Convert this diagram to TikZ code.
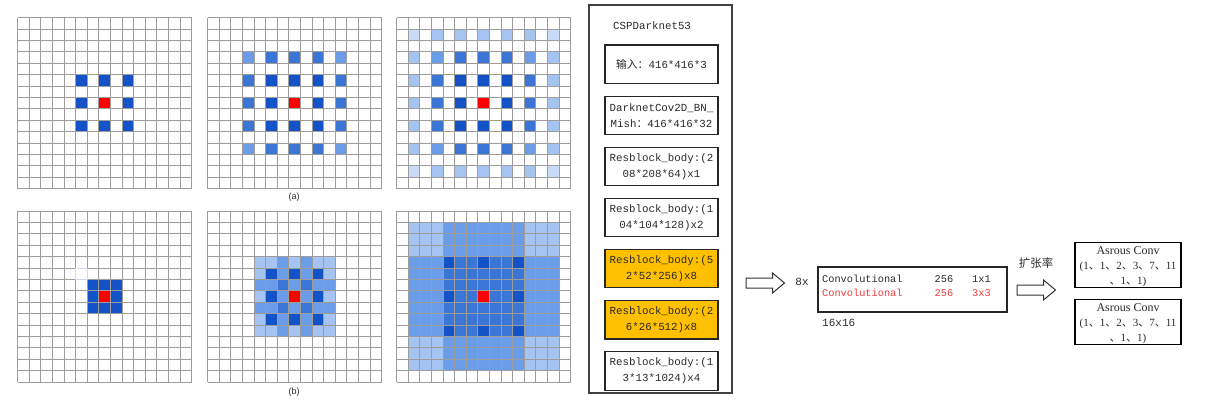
\documentclass[tikz,border=0pt]{standalone}
\usepackage{fontspec}
\setmainfont{Liberation Serif}
\setsansfont{Liberation Sans}
\setmonofont{Liberation Mono}
\newfontfamily\cjk{Noto Sans CJK SC}
\usetikzlibrary{positioning}

\definecolor{gridGray}{HTML}{9C9C9C}
\definecolor{blueDark}{HTML}{1452C8}
\definecolor{blueMid}{HTML}{3B76D6}
\definecolor{blueSoft}{HTML}{6A9CE8}
\definecolor{blueLight}{HTML}{A6C4F2}
\definecolor{blueFaint}{HTML}{C9DBF6}
\definecolor{hotRed}{HTML}{FF0000}
\definecolor{convRed}{HTML}{F23A3A}
\definecolor{stageOrange}{HTML}{FFC000}
\definecolor{textGray}{HTML}{2A2A2A}
\colorlet{lv1}{blueDark}
\colorlet{lv2}{blueMid}
\colorlet{lv3}{blueSoft}
\colorlet{lv4}{blueLight}
\colorlet{lv5}{blueFaint}

\newcommand{\dun}{{\cjk 、}}

\begin{document}
\begin{tikzpicture}[x=1pt,y=-1pt,
    % 统一样式
    grid_style/.style={draw=gridGray, line width=0.9pt},
    stage_box/.style={draw=black!85, line width=1.1pt, fill=white, minimum width=113pt,
        minimum height=38.5pt, inner sep=0pt, align=center, text=textGray,
        font=\ttfamily\fontsize{10.8}{16}\selectfont},
    hot_box/.style={stage_box, fill=stageOrange},
    mono_text/.style={inner sep=0pt, font=\ttfamily\fontsize{10.3}{12}\selectfont, text=textGray},
    atrous_box/.style={draw=black, line width=1.1pt, minimum width=106pt, minimum height=45pt,
        inner sep=0pt, align=center, text=textGray, font=\fontsize{11}{15}\selectfont},
    arrow_style/.style={draw=black!80, line width=1pt, fill=white}
]
    \useasboundingbox (0,0) rectangle (1213,402);

    % --- 绘制宏 ---
    % 15x15 网格线
    \newcommand{\fmap}[1]{
        \begin{scope}[shift={(#1)}]
            \foreach \idx in {0,...,15} {
                \draw[grid_style] ({11.6*\idx},0) -- ({11.6*\idx},171);
                \draw[grid_style] (0,{11.4*\idx}) -- (174,{11.4*\idx});
            }
        \end{scope}
    }
    % 填充单个格子: 网格, 列, 行, 颜色
    \newcommand{\fmcell}[4]{
        \fill[#4, shift={(#1)}] ({11.6*(#2)},{11.4*(#3)}) rectangle ++(11.6,11.4);
    }
    % 空心箭头
    \newcommand{\blockarrow}[2]{
        \coordinate (#1) at (#2);
        \draw[arrow_style, shift={(#1)}] (0,-5) -- (26.5,-5) -- (26.5,-10) -- (38.5,0)
            -- (26.5,10) -- (26.5,5) -- (0,5) -- cycle;
    }

    % --- 网格位置 ---
    \coordinate (a1) at (17.7,17.7);
    \coordinate (a2) at (207.7,17.7);
    \coordinate (a3) at (396.7,17.7);
    \coordinate (b1) at (17.7,211);
    \coordinate (b2) at (207.7,211);
    \coordinate (b3) at (396.7,211);

    % --- (a) 空洞卷积 ---
    \foreach \i in {-1,0,1} {
        \foreach \j in {-1,0,1} {
            \fmcell{a1}{7+2*\i}{7+2*\j}{lv1}
        }
    }
    \fmcell{a1}{7}{7}{hotRed}

    \foreach \gname/\rad in {a2/2,a3/3} {
        \foreach \i in {-\rad,...,\rad} {
            \foreach \j in {-\rad,...,\rad} {
                \pgfmathtruncatemacro{\dst}{max(abs(\i),abs(\j))}
                \pgfmathtruncatemacro{\crn}{abs(\i)==abs(\j)}
                \pgfmathtruncatemacro{\lev}{\dst<2 ? 1 : (\dst==2 ? 2+\crn : 4+\crn)}
                \fmcell{\gname}{7+2*\i}{7+2*\j}{lv\lev}
            }
        }
        \fmcell{\gname}{7}{7}{hotRed}
    }

    % --- (b) 感受野叠加 ---
    \foreach \i in {6,7,8} {
        \foreach \j in {6,7,8} {
            \fmcell{b1}{\i}{\j}{lv1}
        }
    }
    \fmcell{b1}{7}{7}{hotRed}

    \foreach \i in {-3,...,3} {
        \foreach \j in {-3,...,3} {
            \pgfmathtruncatemacro{\cnt}{(1+(abs(\i)==1))*(1+(abs(\j)==1))}
            \pgfmathtruncatemacro{\lev}{\cnt==1 ? 4 : (\cnt<4 ? 3 : 2)}
            \fmcell{b2}{7+\i}{7+\j}{lv\lev}
        }
    }
    \foreach \i in {-2,0,2} {
        \foreach \j in {-2,0,2} {
            \fmcell{b2}{7+\i}{7+\j}{lv1}
        }
    }
    \fmcell{b2}{7}{7}{hotRed}

    \foreach \i in {-6,...,6} {
        \foreach \j in {-6,...,6} {
            \pgfmathtruncatemacro{\cnt}{(1+(abs(\i)<4)+(\i==0))*(1+(abs(\j)<4)+(\j==0))}
            \pgfmathtruncatemacro{\lev}{\cnt==1 ? 4 : (\cnt<4 ? 3 : 2)}
            \fmcell{b3}{7+\i}{7+\j}{lv\lev}
        }
    }
    \foreach \i in {-3,0,3} {
        \foreach \j in {-3,0,3} {
            \fmcell{b3}{7+\i}{7+\j}{lv1}
        }
    }
    \fmcell{b3}{7}{7}{hotRed}

    % 网格线画在填充之上
    \foreach \gname in {a1,a2,a3,b1,b2,b3} {
        \fmap{\gname}
    }
    \draw[blueFaint, line width=1pt, shift={(b1)}] (58,57) rectangle ++(11.6,11.4);

    \node[font=\sffamily\fontsize{9}{10}\selectfont, text=textGray] (lbla) at (294,197) {(a)};
    \node[font=\sffamily\fontsize{9}{10}\selectfont, text=textGray] (lblb) at (294,392) {(b)};

    % --- CSPDarknet53 ---
    \node[draw=black!75, line width=1.2pt, minimum width=143pt, minimum height=388pt] (csp) at (660.5,199) {};
    \node[mono_text, font=\ttfamily\fontsize{10.8}{12}\selectfont, anchor=west] (csptitle) at (613,26) {CSPDarknet53};
    \node[stage_box] (s1) at (661.5,64.25) {{\cjk 输入：}416*416*3};
    \node[stage_box, below=11.5pt of s1] (s2) {DarknetCov2D\_BN\_\\Mish{\cjk ：}416*416*32};
    \node[stage_box, below=11.5pt of s2] (s3) {Resblock\_body:(2\\08*208*64)x1};
    \node[stage_box, below=11.5pt of s3] (s4) {Resblock\_body:(1\\04*104*128)x2};
    \node[hot_box, below=11.5pt of s4] (s5) {Resblock\_body:(5\\2*52*256)x8};
    \node[hot_box, below=11.5pt of s5] (s6) {Resblock\_body:(2\\6*26*512)x8};
    \node[stage_box, below=11.5pt of s6] (s7) {Resblock\_body:(1\\3*13*1024)x4};

    % --- 卷积块 ---
    \blockarrow{arr1}{746,283}
    \node[mono_text, font=\ttfamily\fontsize{11}{12}\selectfont] (rep) at (802,282) {8x};
    \node[draw=black!85, line width=1.1pt, minimum width=189pt, minimum height=45pt] (conv) at (912.5,289.5) {};
    \node[mono_text, anchor=west] (c1n) at (822,279) {Convolutional};
    \node[mono_text] (c1f) at (944,279) {256};
    \node[mono_text] (c1k) at (981.5,279) {1x1};
    \node[mono_text, text=convRed, anchor=west] (c2n) at (822,293) {Convolutional};
    \node[mono_text, text=convRed] (c2f) at (944,293) {256};
    \node[mono_text, text=convRed] (c2k) at (981.5,293) {3x3};
    \node[mono_text, font=\ttfamily\fontsize{11}{12}\selectfont, anchor=west] (size) at (822,323) {16x16};

    % --- 扩张率 ---
    \blockarrow{arr2}{1017,290}
    \node[font=\cjk\fontsize{11.5}{12}\selectfont, text=textGray, inner sep=0pt] (rate) at (1036,263) {扩张率};
    \node[atrous_box] (at1) at (1128,265) {\rule{0pt}{11pt}{\fontsize{12}{15}\selectfont Asrous Conv}\\(1\dun 1\dun 2\dun 3\dun 7\dun 11\\\dun 1\dun 1)};
    \node[atrous_box, below=11pt of at1] (at2) {\rule{0pt}{11pt}{\fontsize{12}{15}\selectfont Asrous Conv}\\(1\dun 1\dun 2\dun 3\dun 7\dun 11\\\dun 1\dun 1)};

\end{tikzpicture}
\end{document}
